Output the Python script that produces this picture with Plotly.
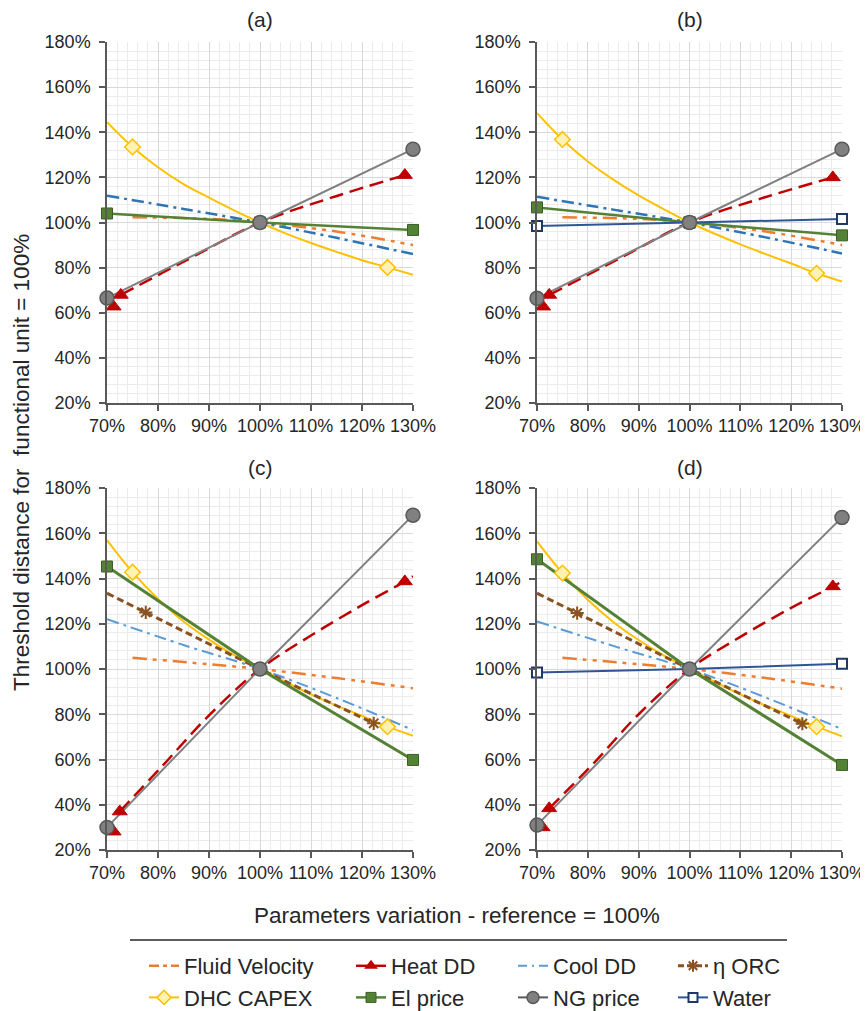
import plotly.graph_objects as go

# the page is W x H; the HTML body adds an 8 px margin, so the figure is 8 px smaller
PAGE_W, PAGE_H = 868, 1011
OFF = 8
W, H = PAGE_W - OFF, PAGE_H - OFF
FONT = "Liberation Sans, Arial, sans-serif"

# ---------------- data (in %) ----------------
PANEL_LABELS = ["(a)", "(b)", "(c)", "(d)"]
SERIES_NAMES = ["Fluid Velocity", "Heat DD", "Cool DD", "η ORC",
                "DHC CAPEX", "El price", "NG price", "Water"]

# DHC CAPEX (smooth curve, diamonds at 75% and 125%)
X_CAPEX = [70, 75, 80, 85, 90, 95, 100, 105, 110, 115, 120, 125, 130]
CAPEX_A = [144.5, 133.5, 124.5, 117.0, 111.0, 105.3, 100, 95.2, 90.9, 87.0, 83.3, 80.1, 76.8]
CAPEX_B = [148.5, 136.8, 127.0, 119.0, 112.0, 105.8, 100, 95.0, 90.3, 86.0, 81.8, 77.5, 73.8]
CAPEX_C = [157.0, 142.8, 131.0, 121.0, 113.0, 106.0, 100, 94.3, 88.8, 83.8, 79.3, 74.5, 70.5]
CAPEX_D = [156.4, 142.4, 130.6, 120.8, 112.8, 105.9, 100, 94.3, 88.8, 83.8, 79.3, 74.5, 70.3]
CAPEX_MARK_X = [75, 125]

# Cool DD (dash-dot)
X_COOL = [70, 85, 100, 115, 130]
COOL_A = [111.9, 106.0, 100, 93.2, 86.0]
COOL_B = [111.4, 105.7, 100, 93.4, 86.3]
COOL_C = [122.0, 110.6, 100, 87.2, 73.0]
COOL_D = [121.0, 110.2, 100, 87.4, 73.4]

# Fluid Velocity (long dash-dot-dot)
X_FLUID = [75, 90, 100, 115, 130]
FLUID_A = [102.3, 101.6, 100, 96.0, 90.0]
FLUID_B = [102.3, 101.6, 100, 96.0, 90.0]
FLUID_C = [105.0, 102.1, 100, 96.0, 91.5]
FLUID_D = [105.0, 102.1, 100, 96.0, 91.3]

# El price (squares)
X_EL = [70, 100, 130]
EL_A = [104.0, 100, 96.7]
EL_B = [106.7, 100, 94.3]
EL_C = [145.3, 100, 59.8]
EL_D = [148.5, 100, 57.6]

# NG price (circles)
X_NG = [70, 100, 130]
NG_A = [66.5, 100, 132.5]
NG_B = [66.4, 100, 132.5]
NG_C = [30.0, 100, 168.0]
NG_D = [31.0, 100, 167.0]

# Water (open squares) - panels (b) and (d)
X_WATER = [70, 100, 130]
WATER_B = [98.5, 100, 101.5]
WATER_D = [98.4, 100, 102.3]

# η ORC (stars) - panels (c) and (d)
X_ORC_C = [70, 77.6, 100, 122.3]
ORC_C = [133.5, 125.0, 100, 76.0]
X_ORC_D = [70, 77.9, 100, 122.2]
ORC_D = [133.5, 124.7, 100, 75.8]

# Heat DD (dashed curve + triangles)
X_HEAT_A = [72.7, 86, 100, 114, 128.4]
HEAT_A = [67.9, 83.8, 100, 111.0, 121.0]
HEAT_MARK_X_A = [71.3, 72.7, 128.4]
HEAT_MARK_Y_A = [62.7, 67.9, 121.0]

X_HEAT_B = [72.4, 86, 100, 114, 128.2]
HEAT_B = [67.9, 83.8, 100, 110.6, 120.0]
HEAT_MARK_X_B = [71.2, 72.4, 128.2]
HEAT_MARK_Y_B = [62.7, 67.9, 120.0]

X_HEAT_C = [72.5, 81, 90, 100, 110, 120, 128.4, 130]
HEAT_C = [37.0, 57.5, 79.5, 100, 114.8, 128.2, 138.7, 141.0]
HEAT_MARK_X_C = [71.3, 72.5, 128.4]
HEAT_MARK_Y_C = [28.1, 37.0, 138.7]

X_HEAT_D = [72.4, 81, 90, 100, 110, 120, 128.2, 130]
HEAT_D = [38.4, 58.0, 80.0, 100, 114.2, 127.0, 136.5, 138.7]
HEAT_MARK_X_D = [71.1, 72.4, 128.2]
HEAT_MARK_Y_D = [30.0, 38.4, 136.5]

# ---------------- styles ----------------
C_FLUID = "#ED7D31"
C_HEAT = "#C00000"
C_COOL_AB = "#2E75B6"
C_COOL_CD = "#5B9BD5"
C_ORC = "#8A5220"
C_CAPEX = "#FFC000"
C_CAPEX_FILL = "#FFF2B3"
C_EL = "#548235"
C_EL_EDGE = "#3B5E25"
C_NG = "#808080"
C_NG_EDGE = "#595959"
C_WATER = "#2F5597"
C_WATER_EDGE = "#1F3864"
C_TEXT = "#262626"

D_FLUID = "14px,6px,4px,6px,4px,6px"
D_HEAT = "14px,7px"
D_COOL = "12px,5px,3px,5px"
D_ORC = "7px,4px"

# ---------------- layout geometry (page pixels) ----------------
PX_COLS = [(107, 413), (537, 842)]
PX_ROWS = [(42, 403), (488, 850)]


def px_x(px):
    return (px - OFF) / W


def px_y(py):
    return 1 - (py - OFF) / H


def xdom(c):
    a, b = PX_COLS[c]
    return [px_x(a), px_x(b)]


def ydom(r):
    a, b = PX_ROWS[r]
    return [px_y(b), px_y(a)]


fig = go.Figure()


def axref(i):
    return ("x" if i == 0 else f"x{i+1}"), ("y" if i == 0 else f"y{i+1}")


def line(i, x, y, color, width, dash="solid", shape="spline"):
    xa, ya = axref(i)
    fig.add_trace(go.Scatter(x=x, y=y, mode="lines", xaxis=xa, yaxis=ya,
                             line=dict(color=color, width=width, dash=dash, shape=shape),
                             showlegend=False, hoverinfo="skip"))


def marks(i, x, y, symbol, size, fill, edge, ew):
    xa, ya = axref(i)
    fig.add_trace(go.Scatter(x=x, y=y, mode="markers", xaxis=xa, yaxis=ya,
                             marker=dict(symbol=symbol, size=size, color=fill,
                                         line=dict(color=edge, width=ew)),
                             cliponaxis=False, showlegend=False, hoverinfo="skip"))


def pick(xs, ys, xm):
    return [ys[xs.index(v)] for v in xm]


CAPEX = [CAPEX_A, CAPEX_B, CAPEX_C, CAPEX_D]
COOL = [COOL_A, COOL_B, COOL_C, COOL_D]
FLUID = [FLUID_A, FLUID_B, FLUID_C, FLUID_D]
EL = [EL_A, EL_B, EL_C, EL_D]
NG = [NG_A, NG_B, NG_C, NG_D]
WATER = {1: WATER_B, 3: WATER_D}
ORC = {2: (X_ORC_C, ORC_C), 3: (X_ORC_D, ORC_D)}
HEAT = [(X_HEAT_A, HEAT_A, HEAT_MARK_X_A, HEAT_MARK_Y_A),
        (X_HEAT_B, HEAT_B, HEAT_MARK_X_B, HEAT_MARK_Y_B),
        (X_HEAT_C, HEAT_C, HEAT_MARK_X_C, HEAT_MARK_Y_C),
        (X_HEAT_D, HEAT_D, HEAT_MARK_X_D, HEAT_MARK_Y_D)]

for i in range(4):
    top = i < 2
    # lines
    line(i, X_FLUID, FLUID[i], C_FLUID, 2.5, D_FLUID)
    line(i, X_COOL, COOL[i], C_COOL_AB if top else C_COOL_CD, 2.5 if top else 2, D_COOL)
    line(i, X_CAPEX, CAPEX[i], C_CAPEX, 2)
    if i in ORC:
        line(i, ORC[i][0], ORC[i][1], C_ORC, 3, D_ORC)
    line(i, X_EL, EL[i], C_EL, 2.5 if top else 3, "solid", "linear")
    if i in WATER:
        line(i, X_WATER, WATER[i], C_WATER, 2, "solid", "linear")
    hx, hy, hmx, hmy = HEAT[i]
    line(i, hx, hy, C_HEAT, 2.5, D_HEAT)
    line(i, X_NG, NG[i], C_NG, 2, "solid", "linear")
    # markers
    marks(i, CAPEX_MARK_X, pick(X_CAPEX, CAPEX[i], CAPEX_MARK_X), "diamond", 12,
          C_CAPEX_FILL, C_CAPEX, 1.5)
    if i in ORC:
        ox, oy = ORC[i]
        marks(i, ox[1:], oy[1:], "asterisk-open", 11, C_ORC, C_ORC, 2)
    marks(i, X_EL, EL[i], "square", 11, C_EL, C_EL_EDGE, 1)
    if i in WATER:
        marks(i, X_WATER, WATER[i], "square", 10, "white", C_WATER_EDGE, 2)
    marks(i, hmx, hmy, "triangle-up", 13, C_HEAT, C_HEAT, 1)
    marks(i, X_NG, NG[i], "circle", 14, C_NG, C_NG_EDGE, 1.5)

# ---------------- legend entries (4 columns x 2 rows) ----------------
LEGEND_COLS = [["Fluid Velocity", "DHC CAPEX"], ["Heat DD", "El price"],
               ["Cool DD", "NG price"], ["η ORC", "Water"]]
LEG_STYLE = {
    "Fluid Velocity": dict(mode="lines", line=dict(color=C_FLUID, width=2.5, dash="10px,4px,4px,4px")),
    "DHC CAPEX": dict(mode="lines+markers", line=dict(color=C_CAPEX, width=2),
                      marker=dict(symbol="diamond", size=11, color=C_CAPEX_FILL,
                                  line=dict(color=C_CAPEX, width=1.5))),
    "Heat DD": dict(mode="lines+markers", line=dict(color=C_HEAT, width=2.5),
                    marker=dict(symbol="triangle-up", size=12, color=C_HEAT)),
    "El price": dict(mode="lines+markers", line=dict(color=C_EL, width=2.5),
                     marker=dict(symbol="square", size=10, color=C_EL,
                                 line=dict(color=C_EL_EDGE, width=1))),
    "Cool DD": dict(mode="lines", line=dict(color=C_COOL_CD, width=2, dash="9px,5px,2px,5px")),
    "NG price": dict(mode="lines+markers", line=dict(color=C_NG_EDGE, width=2),
                     marker=dict(symbol="circle", size=12, color=C_NG,
                                 line=dict(color=C_NG_EDGE, width=1.5))),
    "η ORC": dict(mode="lines+markers", line=dict(color=C_ORC, width=3, dash="6px,3px"),
                  marker=dict(symbol="asterisk-open", size=10, color=C_ORC,
                              line=dict(color=C_ORC, width=2))),
    "Water": dict(mode="lines+markers", line=dict(color=C_WATER, width=2),
                  marker=dict(symbol="square", size=9, color="white",
                              line=dict(color=C_WATER_EDGE, width=2))),
}
LEG_TEXT_X = [185, 392, 554, 714]   # page x where each column's text starts
LEG_TOP = 945                         # page y of the legends' top edge

for k, names in enumerate(LEGEND_COLS):
    lid = "legend" if k == 0 else f"legend{k+1}"
    for nm in names:
        fig.add_trace(go.Scatter(x=[None], y=[None], name=nm, legend=lid,
                                 xaxis="x", yaxis="y", showlegend=True,
                                 hoverinfo="skip", **LEG_STYLE[nm]))
    fig.update_layout({lid: dict(x=px_x(LEG_TEXT_X[k] - 41), xanchor="left",
                                 y=px_y(LEG_TOP), yanchor="top",
                                 orientation="v", bgcolor="rgba(0,0,0,0)",
                                 borderwidth=0, tracegroupgap=0,
                                 font=dict(family=FONT, size=22, color=C_TEXT))})

# ---------------- axes ----------------
for i in range(4):
    r, c = divmod(i, 2)
    sx = "xaxis" if i == 0 else f"xaxis{i+1}"
    sy = "yaxis" if i == 0 else f"yaxis{i+1}"
    xa, ya = axref(i)
    common = dict(showline=True, linecolor="#595959", linewidth=1.5,
                  ticks="outside", ticklen=6, tickcolor="#595959", tickwidth=1.5,
                  showgrid=True, gridcolor="#D9D9D9", gridwidth=1, zeroline=False,
                  tickfont=dict(family=FONT, size=18, color=C_TEXT),
                  ticksuffix="%", tickmode="linear", fixedrange=True)
    fig.update_layout({
        sx: dict(common, domain=xdom(c), anchor=ya, range=[70, 130], tick0=70, dtick=10,
                 minor=dict(showgrid=True, gridcolor="#EBEBEB", gridwidth=1, tick0=70, dtick=2)),
        sy: dict(common, domain=ydom(r), anchor=xa, range=[20, 180], tick0=20, dtick=20,
                 ticklabelstandoff=5,
                 minor=dict(showgrid=True, gridcolor="#EBEBEB", gridwidth=1, tick0=20, dtick=4)),
    })

# ---------------- titles and annotations ----------------
ann = []
TITLE_POS = [(260, 19), (690, 19), (260, 467), (690, 467)]
for lab, (px, py) in zip(PANEL_LABELS, TITLE_POS):
    ann.append(dict(text=lab, x=px_x(px), y=px_y(py), xref="paper", yref="paper",
                    showarrow=False, xanchor="center", yanchor="middle",
                    font=dict(family=FONT, size=21, color=C_TEXT)))
ann.append(dict(text="Threshold distance for  functional unit = 100%", x=px_x(22), y=px_y(463),
                xref="paper", yref="paper", showarrow=False, textangle=-90,
                xanchor="center", yanchor="middle",
                font=dict(family=FONT, size=22.5, color=C_TEXT)))
ann.append(dict(text="Parameters variation - reference = 100%", x=px_x(457), y=px_y(915),
                xref="paper", yref="paper", showarrow=False,
                xanchor="center", yanchor="middle",
                font=dict(family=FONT, size=22.5, color=C_TEXT)))

fig.update_layout(
    width=W, height=H,
    margin=dict(l=0, r=0, t=0, b=0, autoexpand=False),
    paper_bgcolor="white", plot_bgcolor="white",
    annotations=ann,
    shapes=[dict(type="line", xref="paper", yref="paper",
                 x0=px_x(130), x1=px_x(787), y0=px_y(940), y1=px_y(940),
                 line=dict(color=C_TEXT, width=1.5))],
    font=dict(family=FONT, color=C_TEXT),
)

fig.write_html("out.html")
